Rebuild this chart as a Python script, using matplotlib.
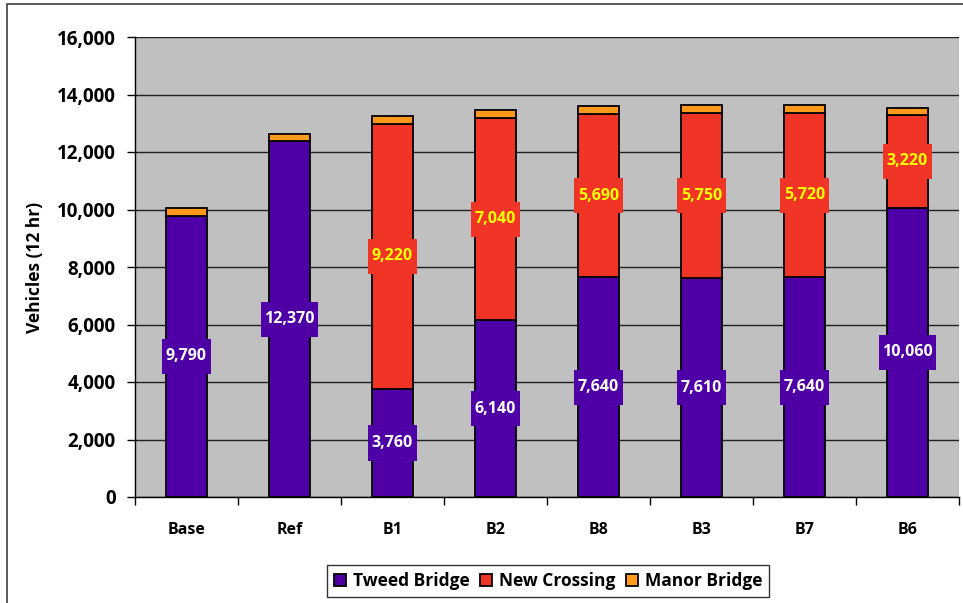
import matplotlib
matplotlib.use("Agg")
import matplotlib.pyplot as plt
import numpy as np
from matplotlib.patches import Rectangle
from matplotlib.path import Path

plt.rcParams['font.family'] = ['Open Sans', 'DejaVu Sans']

scenarios = ["Base", "Ref", "B1", "B2", "B8", "B3", "B7", "B6"]
tweed_bridge = [9790, 12370, 3760, 6140, 7640, 7610, 7640, 10060]
new_crossing = [0, 0, 9220, 7040, 5690, 5750, 5720, 3220]
manor_bridge = [270, 270, 270, 280, 260, 270, 270, 250]
y_ticks = [0, 2000, 4000, 6000, 8000, 10000, 12000, 14000, 16000]

c_tweed = "#4E00A6"
c_new = "#F03526"
c_manor = "#FF991C"


class LabelBox:
    """Rectangular label box with separate horizontal and vertical padding."""

    def __init__(self, pad_x, pad_y):
        self.pad_x = pad_x
        self.pad_y = pad_y

    def __call__(self, x0, y0, width, height, mutation_size):
        px = self.pad_x * mutation_size
        py = self.pad_y * mutation_size
        x0, y0 = x0 - px, y0 - py
        x1, y1 = x0 + width + 2 * px, y0 + height + 2 * py
        return Path([(x0, y0), (x1, y0), (x1, y1), (x0, y1), (x0, y0)], closed=True)


fig = plt.figure(figsize=(9.63, 6.03), dpi=100)
ax = fig.add_axes([135 / 963, 1 - 497 / 603, 824 / 963, 460 / 603])
ax.set_facecolor("#C0C0C0")

x = np.arange(len(scenarios))
w = 0.4
tw = np.array(tweed_bridge)
nc = np.array(new_crossing)
mb = np.array(manor_bridge)

edge = dict(edgecolor="black", linewidth=1.3, zorder=3)
b1 = ax.bar(x, tw, w, color=c_tweed, label="Tweed Bridge", **edge)
b2 = ax.bar(x, nc, w, bottom=tw, color=c_new, label="New Crossing", **edge)
b3 = ax.bar(x, mb, w, bottom=tw + nc, color=c_manor, label="Manor Bridge", **edge)

for i in range(len(scenarios)):
    ax.text(x[i], tw[i] / 2, f"{tw[i]:,}", ha="center", va="center",
            color="white", fontsize=11.5, fontweight="bold", zorder=5,
            bbox=dict(boxstyle=LabelBox(0.22, 0.6), facecolor=c_tweed, edgecolor="none"))
    if nc[i] > 0:
        ax.text(x[i], tw[i] + nc[i] / 2, f"{nc[i]:,}", ha="center", va="center",
                color="#FFFF00", fontsize=11.5, fontweight="bold", zorder=5,
                bbox=dict(boxstyle=LabelBox(0.22, 0.6), facecolor=c_new, edgecolor="none"))

ax.set_xlim(-0.5, len(scenarios) - 0.5)
ax.set_ylim(0, 16000)
ax.set_yticks(y_ticks)
ax.set_yticklabels([f"{v:,}" for v in y_ticks], fontsize=13.5, fontweight="bold")
ax.set_xticks(x)
ax.set_xticklabels(scenarios, fontsize=11.5, fontweight="bold")
ax.set_xticks(np.arange(len(scenarios) + 1) - 0.5, minor=True)
ax.tick_params(axis="x", which="major", length=0, pad=18)
ax.tick_params(axis="x", which="minor", length=6, width=1, color="black")
ax.tick_params(axis="y", length=6, width=1, color="black", pad=8)
ax.yaxis.grid(True, color="#202020", linewidth=1)
ax.set_axisbelow(True)
for s in ["top", "right"]:
    ax.spines[s].set_visible(False)
ax.spines["left"].set_linewidth(1)
ax.spines["bottom"].set_linewidth(1)
ax.set_ylabel("Vehicles (12 hr)", fontsize=12.5, fontweight="bold", labelpad=9)

leg = fig.legend(handles=[b1, b2, b3], loc="center", bbox_to_anchor=(548 / 963, 1 - 581 / 603),
                 ncol=3, frameon=True, fancybox=False,
                 handlelength=0.7, handleheight=0.7, handletextpad=0.4, columnspacing=0.6,
                 borderpad=0.4, prop=dict(weight="bold", size=12.5))
leg.get_frame().set_edgecolor("black")
leg.get_frame().set_linewidth(1)

fig.patches.append(Rectangle((7 / 963, -0.1), 2, 1.1 - 4 / 603, transform=fig.transFigure,
                             fill=False, edgecolor="#404040", linewidth=1.2))

fig.savefig("out.png", dpi=100)
